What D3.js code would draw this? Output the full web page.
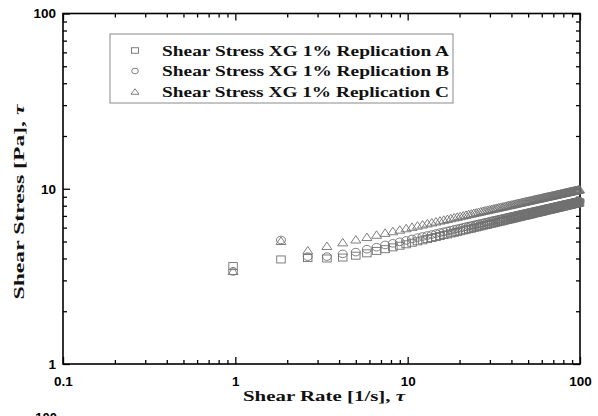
<!DOCTYPE html>
<html><head><meta charset="utf-8">
<script src="https://cdn.jsdelivr.net/npm/d3@7"></script>
<style>body{margin:0;background:#fff;overflow:hidden}</style></head>
<body><svg id="c" width="598" height="416"></svg>
<script>
const shearRate = [0.97,1.84,2.63,3.4,4.2,5.0,5.8,6.6,7.4,8.2,9.0,9.8,10.6,11.4,12.2,13.0,13.8,14.6,15.4,16.2,17.0,17.8,18.6,19.4,20.2,21.0,21.8,22.6,23.4,24.2,25.0,25.8,26.6,27.4,28.2,29.0,29.8,30.6,31.4,32.2,33.0,33.8,34.6,35.4,36.2,37.0,37.8,38.6,39.4,40.2,41.0,41.8,42.6,43.4,44.2,45.0,45.8,46.6,47.4,48.2,49.0,49.8,50.6,51.4,52.2,53.0,53.8,54.6,55.4,56.2,57.0,57.8,58.6,59.4,60.2,61.0,61.8,62.6,63.4,64.2,65.0,65.8,66.6,67.4,68.2,69.0,69.8,70.6,71.4,72.2,73.0,73.8,74.6,75.4,76.2,77.0,77.8,78.6,79.4,80.2,81.0,81.8,82.6,83.4,84.2,85.0,85.8,86.6,87.4,88.2,89.0,89.8,90.6,91.4,92.2,93.0,93.8,94.6,95.4,96.2,97.0,97.8,98.6,99.4];
const stressA = [3.62,3.95,4.02,4.0,4.05,4.15,4.28,4.42,4.52,4.63,4.73,4.82,4.92,5.01,5.08,5.16,5.23,5.30,5.37,5.44,5.49,5.56,5.61,5.67,5.72,5.78,5.83,5.88,5.92,5.98,6.02,6.07,6.11,6.16,6.20,6.23,6.28,6.32,6.35,6.39,6.43,6.47,6.50,6.53,6.57,6.61,6.64,6.67,6.70,6.74,6.76,6.80,6.83,6.86,6.89,6.91,6.95,6.98,7.01,7.03,7.05,7.09,7.11,7.14,7.16,7.19,7.22,7.25,7.27,7.29,7.31,7.35,7.36,7.39,7.41,7.43,7.46,7.49,7.51,7.53,7.55,7.56,7.60,7.61,7.63,7.66,7.67,7.69,7.71,7.74,7.76,7.78,7.80,7.82,7.83,7.85,7.88,7.90,7.92,7.93,7.95,7.97,7.98,8.01,8.03,8.04,8.06,8.08,8.09,8.11,8.13,8.15,8.17,8.19,8.20,8.21,8.23,8.25,8.26,8.27,8.30,8.31,8.33,8.35];
const stressB = [3.38,5.1,4.1,4.1,4.25,4.35,4.52,4.64,4.78,4.88,4.98,5.07,5.17,5.26,5.34,5.41,5.48,5.55,5.62,5.68,5.74,5.80,5.86,5.91,5.96,6.02,6.07,6.12,6.16,6.21,6.26,6.30,6.34,6.38,6.43,6.46,6.50,6.55,6.58,6.62,6.65,6.69,6.72,6.75,6.79,6.82,6.86,6.89,6.92,6.95,6.98,7.01,7.04,7.07,7.10,7.12,7.16,7.18,7.21,7.23,7.26,7.29,7.31,7.34,7.36,7.39,7.41,7.44,7.46,7.48,7.51,7.53,7.55,7.58,7.60,7.62,7.65,7.67,7.69,7.71,7.73,7.75,7.78,7.79,7.81,7.84,7.85,7.87,7.90,7.91,7.93,7.96,7.97,7.99,8.01,8.03,8.04,8.07,8.09,8.10,8.12,8.14,8.15,8.17,8.19,8.21,8.22,8.24,8.26,8.27,8.29,8.31,8.33,8.34,8.35,8.37,8.39,8.40,8.42,8.43,8.45,8.46,8.48,8.50];
const stressC = [3.4,5.05,4.46,4.73,4.96,5.15,5.32,5.48,5.62,5.74,5.86,5.97,6.08,6.18,6.27,6.36,6.44,6.52,6.60,6.67,6.74,6.81,6.88,6.94,7.00,7.06,7.12,7.18,7.23,7.29,7.34,7.39,7.44,7.49,7.54,7.58,7.63,7.68,7.72,7.76,7.80,7.85,7.88,7.92,7.96,8.00,8.04,8.08,8.11,8.15,8.18,8.22,8.25,8.29,8.32,8.35,8.39,8.42,8.45,8.48,8.51,8.54,8.57,8.60,8.63,8.66,8.69,8.72,8.75,8.77,8.80,8.83,8.85,8.88,8.91,8.93,8.96,8.99,9.01,9.04,9.06,9.08,9.11,9.13,9.15,9.18,9.20,9.22,9.25,9.27,9.29,9.32,9.34,9.36,9.38,9.40,9.42,9.45,9.47,9.49,9.51,9.53,9.55,9.57,9.59,9.61,9.63,9.65,9.67,9.69,9.71,9.73,9.75,9.77,9.78,9.80,9.82,9.84,9.86,9.87,9.89,9.91,9.93,9.95];
const seriesNames = ["Shear Stress XG 1% Replication A","Shear Stress XG 1% Replication B","Shear Stress XG 1% Replication C"];
const xTickValues = [0.1,1,10,100];
const xTickLabels = ["0.1","1","10","100"];
const yTickValues = [1,10,100];
const yTickLabels = ["1","10","100"];
const xTitle = "Shear Rate [1/s], ";
const yTitle = "Shear Stress [Pa], ";
const tauSymbol = "τ";

const svg = d3.select("#c");
const L = 63, R = 580, T = 13.5, B = 364;
const x = d3.scaleLog().domain([0.1,100]).range([L,R]);
const y = d3.scaleLog().domain([1,100]).range([B,T]);

function minors(lo, hi){ const out=[]; for(let d=lo; d<hi; d*=10){ for(let k=2;k<=9;k++) out.push(+(d*k).toPrecision(3)); } return out; }
const xMin = minors(0.1,100), yMin = minors(1,100);
const sans = "'Liberation Sans', Arial, sans-serif";
const serif = "'Liberation Serif', 'Times New Roman', serif";

function styleAxis(g){ g.select(".domain").remove(); g.selectAll("line").attr("stroke","#000").attr("stroke-width",1.3); g.selectAll("text").attr("font-family",sans).attr("font-weight","bold").attr("font-size",13.5).attr("fill","#000"); }

svg.append("g").attr("transform",`translate(0,${B})`).call(d3.axisBottom(x).tickValues(xMin).tickSize(-4).tickFormat("")).call(styleAxis);
svg.append("g").attr("transform",`translate(0,${B})`).call(d3.axisBottom(x).tickValues(xTickValues).tickSize(-7).tickPadding(12).tickFormat((d,i)=>xTickLabels[i])).call(styleAxis);
svg.append("g").attr("transform",`translate(0,${T})`).call(d3.axisTop(x).tickValues(xMin).tickSize(-4).tickFormat("")).call(styleAxis);
svg.append("g").attr("transform",`translate(0,${T})`).call(d3.axisTop(x).tickValues(xTickValues).tickSize(-7).tickFormat("")).call(styleAxis);
svg.append("g").attr("transform",`translate(${L},0)`).call(d3.axisLeft(y).tickValues(yMin).tickSize(-4).tickFormat("")).call(styleAxis);
svg.append("g").attr("transform",`translate(${L},0)`).call(d3.axisLeft(y).tickValues(yTickValues).tickSize(-7).tickPadding(7).tickFormat((d,i)=>yTickLabels[i])).call(styleAxis);
svg.append("g").attr("transform",`translate(${R},0)`).call(d3.axisRight(y).tickValues(yMin).tickSize(-4).tickFormat("")).call(styleAxis);
svg.append("g").attr("transform",`translate(${R},0)`).call(d3.axisRight(y).tickValues(yTickValues).tickSize(-7).tickFormat("")).call(styleAxis);

svg.append("rect").attr("x",L).attr("y",T).attr("width",R-L).attr("height",B-T).attr("fill","none").attr("stroke","#000").attr("stroke-width",1.6);

const mk = "#707070";
function square(g,cx,cy,w,h){ g.append("rect").attr("x",cx-w/2).attr("y",cy-h/2).attr("width",w).attr("height",h).attr("fill","none").attr("stroke",mk).attr("stroke-width",0.9); }
function circle(g,cx,cy,rx,ry){ g.append("ellipse").attr("cx",cx).attr("cy",cy).attr("rx",rx).attr("ry",ry).attr("fill","none").attr("stroke",mk).attr("stroke-width",0.9); }
function tri(g,cx,cy,w,h){ g.append("path").attr("d",`M${cx-w/2},${cy+h/2}L${cx+w/2},${cy+h/2}L${cx},${cy-h/2}Z`).attr("fill","none").attr("stroke",mk).attr("stroke-width",0.9); }

const gA = svg.append("g"), gB = svg.append("g"), gC = svg.append("g");
shearRate.forEach((r,i)=>{ square(gA,x(r),y(stressA[i]),8.5,7); });
shearRate.forEach((r,i)=>{ circle(gB,x(r),y(stressB[i]),4.5,3.8); });
shearRate.forEach((r,i)=>{ tri(gC,x(r),y(stressC[i]),10,7.5); });

svg.append("rect").attr("x",110).attr("y",34).attr("width",343).attr("height",69).attr("fill","#fff").attr("stroke","#8a8a8a").attr("stroke-width",1);
const rows = [50.5,71,91.5];
const lg = svg.append("g");
square(lg,135,rows[0],7,5.5);
circle(lg,135,rows[1],3.3,2.8);
tri(lg,135,rows[2],8,5.5);
seriesNames.forEach((s,i)=>{
  lg.append("text").attr("x",162).attr("y",rows[i]+5).attr("font-family",serif).attr("font-weight","bold").attr("font-size",15)
    .attr("textLength",287).attr("lengthAdjust","spacingAndGlyphs").attr("fill","#111").text(s);
});

const xt = svg.append("text").attr("x",324).attr("y",401).attr("text-anchor","middle").attr("font-family",serif).attr("font-weight","bold").attr("font-size",15)
  .attr("textLength",162).attr("lengthAdjust","spacingAndGlyphs").attr("fill","#111");
xt.append("tspan").text(xTitle); xt.append("tspan").attr("font-style","italic").text(tauSymbol);
const yt = svg.append("text").attr("transform","translate(24,202) rotate(-90)").attr("text-anchor","middle").attr("font-family",serif).attr("font-weight","bold").attr("font-size",15)
  .attr("textLength",195).attr("lengthAdjust","spacingAndGlyphs").attr("fill","#111");
yt.append("tspan").text(yTitle); yt.append("tspan").attr("font-style","italic").text(tauSymbol);

svg.append("text").attr("x",57).attr("y",422).attr("text-anchor","end").attr("font-family",sans).attr("font-weight","bold").attr("font-size",13).attr("fill","#000").text(yTickLabels[2]);
</script></body></html>
